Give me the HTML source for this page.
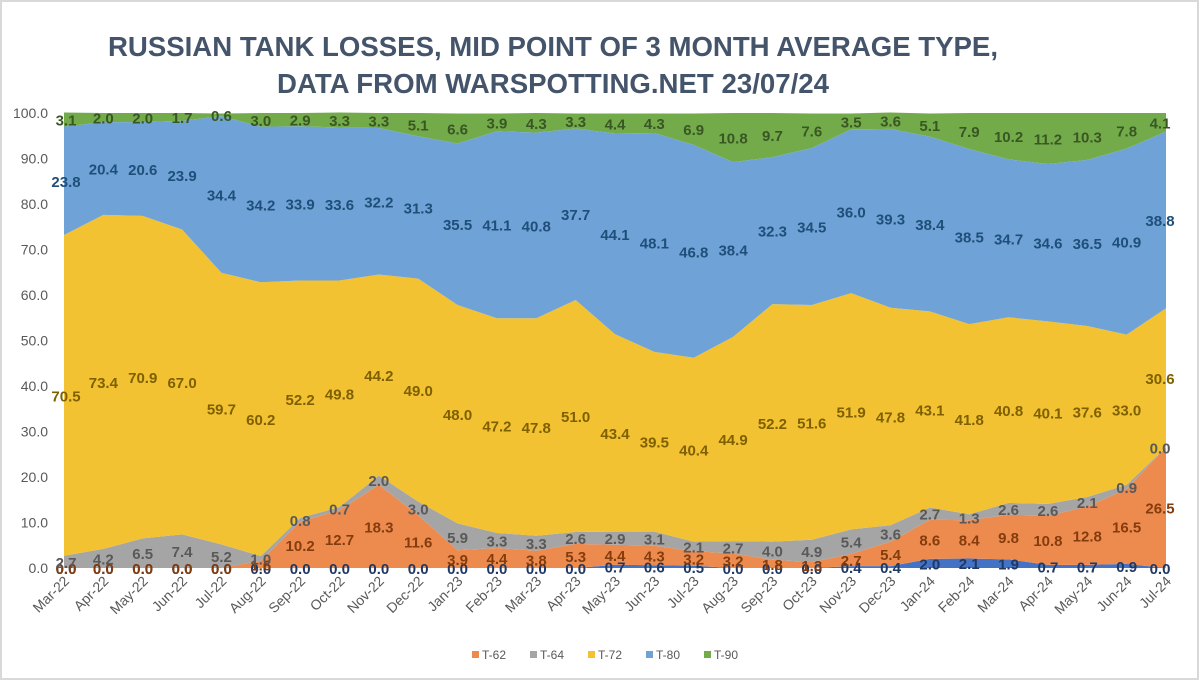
<!DOCTYPE html>
<html><head><meta charset="utf-8"><style>
body{margin:0;background:#fff}
svg{display:block;font-family:"Liberation Sans",sans-serif}
</style></head><body>
<svg id="chart" width="1200" height="681">
<rect x="1" y="1" width="1197" height="678" fill="#fff" stroke="#d9d9d9" stroke-width="2"/>
<text x="553" y="56" text-anchor="middle" font-size="28" font-weight="bold" fill="#44546A" textLength="890" lengthAdjust="spacingAndGlyphs">RUSSIAN TANK LOSSES, MID POINT OF 3 MONTH AVERAGE TYPE,</text>
<text x="553" y="93" text-anchor="middle" font-size="28" font-weight="bold" fill="#44546A" textLength="552" lengthAdjust="spacingAndGlyphs">DATA FROM WARSPOTTING.NET 23/07/24</text>
<g id="plot"></g>
</svg>
<script>
const categories=["Mar-22","Apr-22","May-22","Jun-22","Jul-22","Aug-22","Sep-22","Oct-22","Nov-22","Dec-22","Jan-23","Feb-23","Mar-23","Apr-23","May-23","Jun-23","Jul-23","Aug-23","Sep-23","Oct-23","Nov-23","Dec-23","Jan-24","Feb-24","Mar-24","Apr-24","May-24","Jun-24","Jul-24"];
const other=[0,0,0,0,0,0,0,0,0,0,0,0,0,0,0.7,0.6,0.5,0,0,0,0.4,0.4,2.0,2.1,1.9,0.7,0.7,0.9,0];
const t62=[0,0,0,0,0,1.6,10.2,12.7,18.3,11.6,3.9,4.4,3.8,5.3,4.4,4.3,3.2,3.2,1.8,1.3,2.7,5.4,8.6,8.4,9.8,10.8,12.8,16.5,26.5];
const t64=[2.7,4.2,6.5,7.4,5.2,1.0,0.8,0.7,2.0,3.0,5.9,3.3,3.3,2.6,2.9,3.1,2.1,2.7,4.0,4.9,5.4,3.6,2.7,1.3,2.6,2.6,2.1,0.9,0.0];
const t72=[70.5,73.4,70.9,67.0,59.7,60.2,52.2,49.8,44.2,49.0,48.0,47.2,47.8,51.0,43.4,39.5,40.4,44.9,52.2,51.6,51.9,47.8,43.1,41.8,40.8,40.1,37.6,33.0,30.6];
const t80=[23.8,20.4,20.6,23.9,34.4,34.2,33.9,33.6,32.2,31.3,35.5,41.1,40.8,37.7,44.1,48.1,46.8,38.4,32.3,34.5,36.0,39.3,38.4,38.5,34.7,34.6,36.5,40.9,38.8];
const t90=[3.1,2.0,2.0,1.7,0.6,3.0,2.9,3.3,3.3,5.1,6.6,3.9,4.3,3.3,4.4,4.3,6.9,10.8,9.7,7.6,3.5,3.6,5.1,7.9,10.2,11.2,10.3,7.8,4.1];
const yTicks=["0.0","10.0","20.0","30.0","40.0","50.0","60.0","70.0","80.0","90.0","100.0"];
const seriesNames=["Other","T-62","T-64","T-72","T-80","T-90"];

const NS="http://www.w3.org/2000/svg";
const X0=64,X1=1166,Y0=568,Y100=113;
const xs=i=>X0+i*(X1-X0)/(categories.length-1);
const ys=v=>Y0-v*(Y0-Y100)/100;
const g=document.getElementById('plot');
function mk(t,a,p){const e=document.createElementNS(NS,t);for(const k in a)e.setAttribute(k,a[k]);(p||g).appendChild(e);return e;}

yTicks.forEach((t,i)=>{const e=mk('text',{x:48,y:ys(i*10)+5,'text-anchor':'end','font-size':14,fill:'#595959'});e.textContent=t;

});

const series=[other,t62,t64,t72,t80,t90];
const fills=["#4472C4","#ED8B4F","#A5A5A5","#F2C232","#6FA3D8","#74AB4A"];
const lblCol=["#1F3864","#843C0C","#595959","#7F6000","#1F4E79","#385723"];
let base=categories.map(()=>0);
const stacks=[];
series.forEach((s,k)=>{
  const top=s.map((v,i)=>base[i]+v);
  let d="M"+xs(0)+","+ys(top[0]);
  for(let i=1;i<s.length;i++)d+=" L"+xs(i)+","+ys(top[i]);
  for(let i=s.length-1;i>=0;i--)d+=" L"+xs(i)+","+ys(base[i]);
  const p=mk('path',{d:d+"Z",fill:fills[k]});
  
  
  stacks.push({b:base.slice(),t:top});
  base=top;
});
series.forEach((s,k)=>{
  s.forEach((v,i)=>{
    const mid=(stacks[k].b[i]+stacks[k].t[i])/2;
    let x=xs(i);
    if(i===0)x+=2; if(i===categories.length-1)x-=6;
    const e=mk('text',{x:x,y:ys(mid)+6,'text-anchor':'middle','font-size':15,'font-weight':'bold',fill:lblCol[k]});
    e.textContent=v.toFixed(1);
    
    
  });
});
categories.forEach((c,i)=>{
  const e=mk('text',{x:0,y:0,'text-anchor':'end','font-size':14,fill:'#595959',transform:`translate(${xs(i)+6},${Y0+14}) rotate(-45)`});
  e.textContent=c;
  
  
});
const legendItems=[1,2,3,4,5];
let lx=472;
legendItems.forEach(k=>{
  const r=mk('rect',{x:lx,y:651,width:7,height:7,fill:fills[k]});
  
  
  const t=mk('text',{x:lx+10,y:659,'font-size':12,fill:'#595959'});
  t.textContent=seriesNames[k];
  
  
  lx+=58;
});
</script>
</body></html>
